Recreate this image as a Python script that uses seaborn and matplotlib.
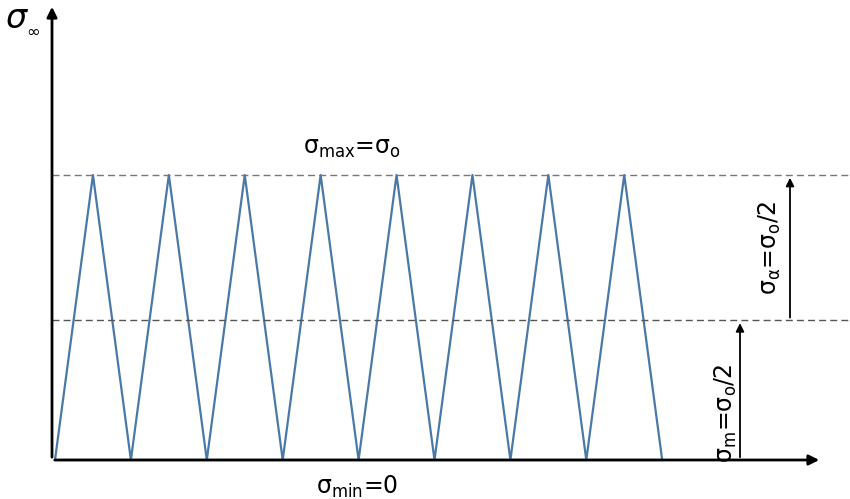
import matplotlib
matplotlib.use("Agg")
import matplotlib.pyplot as plt
import seaborn as sns
import pandas as pd

sns.set_theme(style="white")
plt.rcParams['font.family'] = ['DejaVu Sans']
plt.rcParams['mathtext.fontset'] = 'dejavusans'
plt.rcParams['text.color'] = 'black'

# cycle times (valleys at integers, peaks at half-integers), stress in units of sigma_o
t_vals = [0, 0.5, 1, 1.5, 2, 2.5, 3, 3.5, 4, 4.5, 5, 5.5, 6, 6.5, 7, 7.5, 8]
s_vals = [0, 1, 0, 1, 0, 1, 0, 1, 0, 1, 0, 1, 0, 1, 0, 1, 0]
sigma_max = 1.0
sigma_mean = 0.49
sigma_min = 0.0

df = pd.DataFrame({"t": t_vals, "s": s_vals})

fig = plt.figure(figsize=(8.5, 4.99), dpi=100)
ax = fig.add_axes([0, 0, 1, 1])
ax.set_axis_off()
ax.set_xlim(-55/75.9, (850-55)/75.9)
ax.set_ylim(-39/285, 460/285)

sns.lineplot(data=df, x="t", y="s", ax=ax, color="#4a79a8", lw=1.6, legend=False)
ax.plot([0, 8], [0, 0], color="#4a79a8", lw=1.6)

x0 = -3/75.9
ax.plot([x0, 10.47], [sigma_max]*2, ls=(0, (5, 3)), color="#777777", lw=1)
ax.plot([x0, 10.47], [sigma_mean]*2, ls=(0, (5, 3)), color="#555555", lw=1)

ax.annotate("", xy=(x0, 1.60), xytext=(x0, 0), arrowprops=dict(arrowstyle="-|>", color="black", lw=2, mutation_scale=15))
ax.annotate("", xy=((822-55)/75.9, 0), xytext=(x0, 0), arrowprops=dict(arrowstyle="-|>", color="black", lw=2, mutation_scale=15))

xa = (790-55)/75.9
xm = (740-55)/75.9
ax.annotate("", xy=(xa, sigma_max), xytext=(xa, sigma_mean), arrowprops=dict(arrowstyle="-|>", color="black", lw=1.3, mutation_scale=12))
ax.annotate("", xy=(xm, sigma_mean), xytext=(xm, sigma_min), arrowprops=dict(arrowstyle="-|>", color="black", lw=1.3, mutation_scale=12))

ax.text((5-55)/75.9, (460-20)/285, r"$\sigma_{_\infty}$", fontsize=24, ha="left", va="center")
ax.text((352-55)/75.9, (460-148)/285, r"$\mathregular{\sigma_{max}}$=$\mathregular{\sigma_o}$", fontsize=17, ha="center", va="center")
ax.text((357-55)/75.9, (460-487)/285, r"$\mathregular{\sigma_{min}}$=0", fontsize=17, ha="center", va="center")
ax.text((770-55)/75.9, (460-248)/285, r"$\mathregular{\sigma_{\alpha}}$=$\mathregular{\sigma_o}$/2", fontsize=17, ha="center", va="center", rotation=90)
ax.text((726-55)/75.9, (460-413)/285, r"$\mathregular{\sigma_m}$=$\mathregular{\sigma_o}$/2", fontsize=17, ha="center", va="center", rotation=90)

fig.savefig("out.png", dpi=100, facecolor="white")
